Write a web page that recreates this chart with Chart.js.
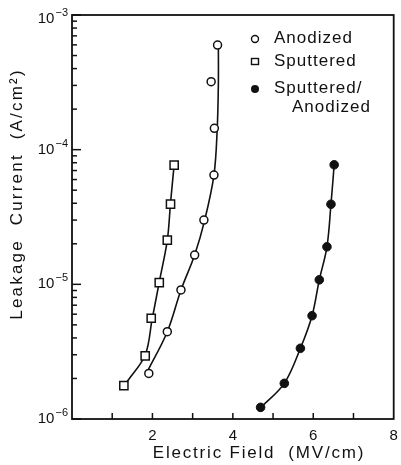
<!DOCTYPE html>
<html><head><meta charset="utf-8">
<script src="https://cdn.jsdelivr.net/npm/chart.js@4/dist/chart.umd.min.js"></script>
<style>html,body{margin:0;padding:0;background:#fff}#wrap{width:401px;height:465px;position:relative}</style>
</head><body><div id="wrap"><canvas id="c" width="401" height="465"></canvas></div>
<script>
// measured markers
const anodizedX = [1.91, 2.37, 2.71, 3.05, 3.28, 3.53, 3.54, 3.46, 3.62];
const anodizedY = [2.18e-6, 4.45e-6, 9.08e-6, 1.65e-5, 3.0e-5, 6.48e-5, 1.44e-4, 3.2e-4, 5.98e-4];
const sputteredX = [1.29, 1.82, 1.97, 2.17, 2.37, 2.45, 2.54];
const sputteredY = [1.77e-6, 2.94e-6, 5.6e-6, 1.03e-5, 2.13e-5, 3.94e-5, 7.69e-5];
const sputAnodX = [4.69, 5.28, 5.68, 5.97, 6.15, 6.34, 6.44, 6.52];
const sputAnodY = [1.22e-6, 1.84e-6, 3.35e-6, 5.85e-6, 1.08e-5, 1.9e-5, 3.93e-5, 7.72e-5];
// fitted curves
const anodizedCurveX = [1.88, 2.37, 2.71, 3.05, 3.30, 3.53, 3.61, 3.64, 3.64];
const anodizedCurveY = [2.27e-6, 4.45e-6, 9.08e-6, 1.65e-5, 3.0e-5, 6.48e-5, 1.4e-4, 3.11e-4, 5.98e-4];
const sputteredCurveX = [1.37, 1.82, 1.99, 2.17, 2.37, 2.45, 2.54];
const sputteredCurveY = [1.89e-6, 2.99e-6, 5.44e-6, 1.04e-5, 2.13e-5, 4.02e-5, 7.72e-5];
const sputAnodCurveX = [4.70, 5.28, 5.68, 5.97, 6.15, 6.34, 6.44, 6.52];
const sputAnodCurveY = [1.22e-6, 1.84e-6, 3.35e-6, 5.85e-6, 1.08e-5, 1.9e-5, 3.93e-5, 7.72e-5];
// ticks
const xTickValues = [1, 2, 3, 4, 5, 6, 7];
const xTickLabels = ['2', '4', '6', '8'];
const yTickExponents = [-6, -5, -4, -3];
const legendLabels = ['Anodized', 'Sputtered', 'Sputtered/', 'Anodized'];
const xTitle = 'Electric Field  (MV/cm)';
const yTitle = 'Leakage  Current  (A/cm\u00B2)';

const pts = (xs, ys) => xs.map((x, i) => ({x: x, y: ys[i]}));
const INK = '#111';
const FONT = '"Liberation Sans", Arial, sans-serif';

const decor = {
  id: 'decor',
  afterDraw(chart) {
    const ctx = chart.ctx, a = chart.chartArea;
    const xs = chart.scales.x, ys = chart.scales.y;
    ctx.save();
    ctx.strokeStyle = INK; ctx.fillStyle = INK;
    // frame
    ctx.lineWidth = 1.8;
    ctx.strokeRect(a.left, a.top, a.right - a.left, a.bottom - a.top);
    // x ticks (inward)
    ctx.lineWidth = 1.5;
    xTickValues.forEach(v => {
      const px = xs.getPixelForValue(v);
      ctx.beginPath(); ctx.moveTo(px, a.bottom); ctx.lineTo(px, a.bottom - 6); ctx.stroke();
    });
    // y ticks (inward), major and minor
    yTickExponents.forEach((e, i) => {
      const py = ys.getPixelForValue(Math.pow(10, e));
      ctx.beginPath(); ctx.moveTo(a.left, py); ctx.lineTo(a.left + 9, py); ctx.stroke();
      if (i < yTickExponents.length - 1) {
        for (let m = 2; m <= 9; m++) {
          const pm = ys.getPixelForValue(m * Math.pow(10, e));
          ctx.beginPath(); ctx.moveTo(a.left, pm); ctx.lineTo(a.left + 5, pm); ctx.stroke();
        }
      }
    });
    // y tick labels 10^e
    ctx.textBaseline = 'middle';
    yTickExponents.forEach((e, i) => {
      const py = ys.getPixelForValue(Math.pow(10, e));
      const yy = (i === yTickExponents.length - 1) ? py + 4 : py;
      ctx.font = '11px ' + FONT;
      ctx.textAlign = 'right';
      const expTxt = '\u2212' + Math.abs(e);
      const ew = ctx.measureText(expTxt).width;
      ctx.fillText(expTxt, a.left - 4, yy - 6);
      ctx.font = '15px ' + FONT;
      ctx.fillText('10', a.left - 5 - ew, yy);
    });
    // axis titles
    ctx.font = '17px ' + FONT;
    ctx.textAlign = 'center';
    ctx.letterSpacing = '1.8px';
    ctx.fillText(xTitle, 259, 453);
    ctx.save();
    ctx.translate(17, 194);
    ctx.rotate(-Math.PI / 2);
    ctx.letterSpacing = '2.2px';
    ctx.fillText(yTitle, 0, 0);
    ctx.restore();
    // legend
    ctx.letterSpacing = '1px';
    ctx.font = '17px ' + FONT;
    ctx.textAlign = 'left';
    const lx = 255, tx = 274;
    const rows = [38, 61, 88, 107];
    ctx.lineWidth = 1.4;
    ctx.beginPath(); ctx.arc(lx, rows[0] + 1, 3.5, 0, Math.PI * 2); ctx.fillStyle = '#fff'; ctx.fill(); ctx.stroke();
    ctx.fillStyle = '#fff'; ctx.fillRect(lx - 3.5, rows[1] - 2.5, 7, 6); ctx.strokeRect(lx - 3.5, rows[1] - 2.5, 7, 6);
    ctx.fillStyle = INK;
    ctx.beginPath(); ctx.arc(lx, rows[2] + 1, 4, 0, Math.PI * 2); ctx.fill();
    ctx.fillText(legendLabels[0], tx, rows[0]);
    ctx.fillText(legendLabels[1], tx, rows[1]);
    ctx.fillText(legendLabels[2], tx, rows[2]);
    ctx.fillText(legendLabels[3], 292, rows[3]);
    ctx.restore();
  }
};

const curveDs = (xs, ys) => ({
  data: pts(xs, ys), showLine: true, pointRadius: 0, borderColor: INK,
  borderWidth: 1.6, tension: 0.35, order: 1, fill: false
});

new Chart(document.getElementById('c'), {
  type: 'scatter',
  data: {
    datasets: [
      {data: pts(anodizedX, anodizedY), pointStyle: 'circle', pointRadius: 4, pointBorderWidth: 1.5,
       pointBackgroundColor: '#fff', pointBorderColor: INK, order: 0},
      {data: pts(sputteredX, sputteredY), pointStyle: 'rect', pointRadius: 5.8, pointBorderWidth: 1.5,
       pointBackgroundColor: '#fff', pointBorderColor: INK, order: 0},
      {data: pts(sputAnodX, sputAnodY), pointStyle: 'circle', pointRadius: 4.3, pointBorderWidth: 1,
       pointBackgroundColor: INK, pointBorderColor: INK, order: 0},
      curveDs(anodizedCurveX, anodizedCurveY),
      curveDs(sputteredCurveX, sputteredCurveY),
      curveDs(sputAnodCurveX, sputAnodCurveY)
    ]
  },
  options: {
    responsive: false, animation: false, devicePixelRatio: 1,
    layout: {padding: {top: 15, right: 5, left: 0, bottom: 0}},
    plugins: {legend: {display: false}, tooltip: {enabled: false}},
    scales: {
      x: {
        type: 'linear', min: 0, max: 8,
        grid: {display: false}, border: {display: false},
        afterFit: s => { s.height = 46; s.paddingLeft = 0; s.paddingRight = 0; },
        ticks: {
          stepSize: 1, padding: 0, color: INK, maxRotation: 0, autoSkip: false,
          font: {family: FONT, size: 15},
          callback: v => xTickLabels.includes(String(v)) ? String(v) : ''
        }
      },
      y: {
        type: 'logarithmic', min: 1e-6, max: 1e-3,
        grid: {display: false}, border: {display: false},
        afterFit: s => { s.width = 72; s.paddingTop = 0; s.paddingBottom = 0; },
        ticks: {display: false}
      }
    }
  },
  plugins: [decor]
});
</script>
</body></html>
